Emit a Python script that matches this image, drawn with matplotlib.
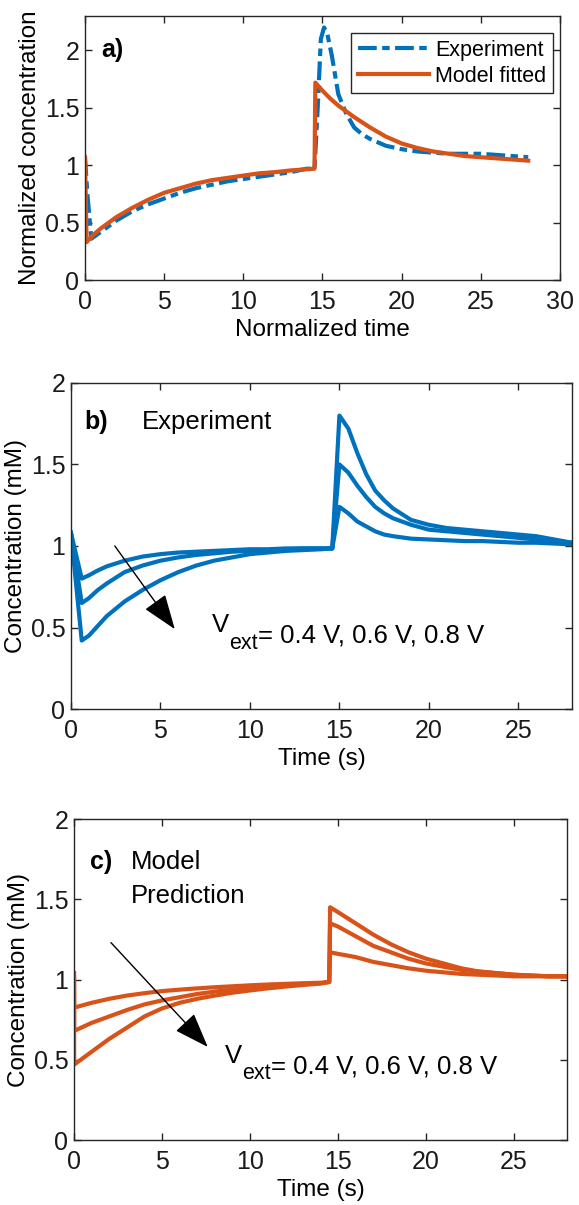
import numpy as np
import matplotlib
matplotlib.use("Agg")
import matplotlib.pyplot as plt
from matplotlib.ticker import FormatStrFormatter

plt.rcParams['font.family'] = ['Liberation Sans', 'DejaVu Sans']
plt.rcParams['mathtext.fontset'] = 'custom'
plt.rcParams['mathtext.rm'] = 'Liberation Sans'
plt.rcParams['mathtext.it'] = 'Liberation Sans'

blue = '#0072BD'
orange = '#D95319'
grey = '#262626'

# panel a: normalized experiment vs fitted model
t_exp_a = [0, 0.15, 0.4, 1, 2, 3, 4, 5, 6, 7, 8, 9, 10, 11, 12, 13, 14, 14.5, 14.7, 14.9, 15.1,
           15.3, 15.6, 16, 16.5, 17, 17.5, 18, 19, 20, 21, 22, 23, 24, 25, 26, 27, 28]
c_exp_a = [1.07, 0.75, 0.36, 0.42, 0.52, 0.60, 0.66, 0.71, 0.76, 0.80, 0.83, 0.86, 0.88, 0.90, 0.92,
           0.94, 0.97, 0.97, 1.5, 2.1, 2.2, 2.15, 1.95, 1.62, 1.45, 1.33, 1.27, 1.23, 1.17, 1.14,
           1.12, 1.11, 1.10, 1.10, 1.10, 1.09, 1.08, 1.07]
t_fit_a = [0, 0.1, 0.5, 1, 2, 3, 4, 5, 6, 7, 8, 9, 10, 11, 12, 13, 14, 14.5, 14.55, 15, 15.5, 16,
           17, 18, 19, 20, 21, 22, 23, 24, 25, 26, 27, 28]
c_fit_a = [1.07, 0.33, 0.39, 0.45, 0.55, 0.63, 0.70, 0.76, 0.80, 0.84, 0.87, 0.89, 0.91, 0.93, 0.94,
           0.955, 0.965, 0.97, 1.72, 1.65, 1.58, 1.52, 1.42, 1.33, 1.25, 1.19, 1.15, 1.12, 1.10,
           1.08, 1.07, 1.06, 1.05, 1.04]

# panel b: experiment at three voltages
t_b = [0, 0.6, 1, 1.5, 2, 3, 4, 5, 6, 7, 8, 9, 10, 11, 12, 13, 14, 14.6, 15.0, 15.5, 16, 16.5,
       17, 17.5, 18, 19, 20, 21, 22, 23, 24, 25, 26, 27, 28]
c_b_04 = [1.08, 0.80, 0.82, 0.85, 0.875, 0.91, 0.935, 0.95, 0.96, 0.965, 0.97, 0.975, 0.98, 0.98,
          0.985, 0.985, 0.985, 0.985, 1.24, 1.20, 1.15, 1.12, 1.09, 1.07, 1.06, 1.045, 1.04, 1.035,
          1.03, 1.03, 1.025, 1.02, 1.02, 1.015, 1.01]
c_b_06 = [1.08, 0.65, 0.68, 0.73, 0.77, 0.84, 0.88, 0.91, 0.93, 0.945, 0.955, 0.965, 0.97, 0.975,
          0.98, 0.985, 0.985, 0.985, 1.50, 1.45, 1.37, 1.30, 1.24, 1.20, 1.17, 1.13, 1.10, 1.09,
          1.08, 1.07, 1.06, 1.05, 1.04, 1.03, 1.02]
c_b_08 = [1.08, 0.42, 0.45, 0.51, 0.57, 0.66, 0.73, 0.79, 0.84, 0.88, 0.91, 0.93, 0.95, 0.96,
          0.97, 0.975, 0.98, 0.985, 1.80, 1.72, 1.57, 1.44, 1.34, 1.28, 1.23, 1.16, 1.13, 1.11,
          1.10, 1.09, 1.08, 1.07, 1.06, 1.04, 1.02]

# panel c: model prediction at three voltages
t_c = [0, 0.01, 1, 2, 3, 4, 5, 6, 7, 8, 9, 10, 11, 12, 13, 14, 14.5, 14.55, 15, 16, 17, 18, 19,
       20, 21, 22, 23, 24, 25, 26, 27, 28]
c_c_04 = [1.04, 0.825, 0.855, 0.88, 0.90, 0.915, 0.928, 0.937, 0.945, 0.952, 0.958, 0.964, 0.969,
          0.973, 0.977, 0.98, 0.985, 1.17, 1.16, 1.14, 1.11, 1.09, 1.07, 1.055, 1.045, 1.035,
          1.03, 1.025, 1.02, 1.02, 1.02, 1.02]
c_c_06 = [1.04, 0.68, 0.73, 0.77, 0.81, 0.845, 0.87, 0.89, 0.91, 0.925, 0.937, 0.947, 0.956,
          0.964, 0.971, 0.977, 0.985, 1.35, 1.33, 1.27, 1.21, 1.17, 1.13, 1.10, 1.08, 1.06, 1.05,
          1.04, 1.03, 1.025, 1.02, 1.02]
c_c_08 = [1.04, 0.47, 0.55, 0.63, 0.70, 0.77, 0.82, 0.855, 0.88, 0.90, 0.918, 0.932, 0.945,
          0.956, 0.966, 0.975, 0.985, 1.45, 1.42, 1.35, 1.28, 1.22, 1.17, 1.13, 1.10, 1.07, 1.05,
          1.04, 1.03, 1.025, 1.02, 1.02]

fs = 18  # tick labels
fl = 17.5  # axis labels / annotations

fig = plt.figure(figsize=(5.79, 12.05), dpi=100)
ax_a = fig.add_axes([0.1468, 0.7676, 0.8202, 0.2191])
ax_b = fig.add_axes([0.1226, 0.4116, 0.8654, 0.2706])
ax_c = fig.add_axes([0.1278, 0.0539, 0.8512, 0.2664])


def style(ax):
    for s in ax.spines.values():
        s.set_color(grey)
        s.set_linewidth(1.0)
    ax.tick_params(direction='in', top=True, right=True, length=5, width=1,
                   colors=grey, labelsize=fs, labelcolor='#1a1a1a', pad=4)
    ax.tick_params(axis='x', pad=7)
    ax.yaxis.set_major_formatter(FormatStrFormatter('%g'))


def vlabel(ax, x, y):
    # V with a low subscript "ext", then the voltage list
    t1 = ax.text(x, y, 'V', fontsize=fl + 1, va='baseline')
    t2 = ax.annotate('ext', xy=(1, 0), xycoords=t1, xytext=(0, -8), textcoords='offset points',
                     fontsize=fl - 2, va='baseline')
    ax.annotate('= 0.4 V, 0.6 V, 0.8 V', xy=(1, 0), xycoords=t2, xytext=(0, 8),
                textcoords='offset points', fontsize=fl + 1, va='baseline')


arrow = dict(arrowstyle='-|>,head_length=1.1,head_width=0.4', color='black', lw=1.0,
             mutation_scale=20, shrinkA=0, shrinkB=0)

# a)
ax_a.plot(t_exp_a, c_exp_a, color=blue, lw=3, dashes=[4.5, 1.3, 1.8, 1.3], label='Experiment')
ax_a.plot(t_fit_a, c_fit_a, color=orange, lw=3, label='Model fitted')
ax_a.set_xlim(0, 30)
ax_a.set_ylim(0, 2.3)
ax_a.set_xticks([0, 5, 10, 15, 20, 25, 30])
ax_a.set_yticks([0, 0.5, 1, 1.5, 2])
ax_a.set_xlabel('Normalized time', fontsize=fl, labelpad=4)
ax_a.set_ylabel('Normalized concentration', fontsize=fl, labelpad=3)
ax_a.text(1.0, 2.0, 'a)', fontsize=fs, fontweight='bold', va='center')
leg = ax_a.legend(loc='upper right', fontsize=15.5, handlelength=3.3, fancybox=False,
                  framealpha=1, edgecolor=grey, borderpad=0.3, labelspacing=0.25,
                  handletextpad=0.3, borderaxespad=0, bbox_to_anchor=(0.985, 0.935))
leg.get_frame().set_linewidth(1.0)
style(ax_a)

# b)
for c in (c_b_04, c_b_06, c_b_08):
    ax_b.plot(t_b, c, color=blue, lw=3, solid_joinstyle='round')
ax_b.set_xlim(0, 28)
ax_b.set_ylim(0, 2)
ax_b.set_xticks([0, 5, 10, 15, 20, 25])
ax_b.set_yticks([0, 0.5, 1, 1.5, 2])
ax_b.set_xlabel('Time (s)', fontsize=fl, labelpad=4)
ax_b.set_ylabel('Concentration (mM)', fontsize=fl, labelpad=3)
ax_b.text(0.75, 1.76, 'b)', fontsize=fs, fontweight='bold', va='center')
ax_b.text(3.95, 1.76, 'Experiment', fontsize=fl + 1, va='center')
ax_b.annotate('', xy=(5.8, 0.49), xytext=(2.45, 1.0), arrowprops=arrow)
vlabel(ax_b, 7.9, 0.47)
style(ax_b)

# c)
for c in (c_c_04, c_c_06, c_c_08):
    ax_c.plot(t_c, c, color=orange, lw=3, solid_joinstyle='round')
ax_c.set_xlim(0, 28)
ax_c.set_ylim(0, 2)
ax_c.set_xticks([0, 5, 10, 15, 20, 25])
ax_c.set_yticks([0, 0.5, 1, 1.5, 2])
ax_c.set_xlabel('Time (s)', fontsize=fl, labelpad=4)
ax_c.set_ylabel('Concentration (mM)', fontsize=fl, labelpad=3)
ax_c.text(0.9, 1.73, 'c)', fontsize=fs, fontweight='bold', va='center')
ax_c.text(3.25, 1.73, 'Model', fontsize=fl + 1, va='center')
ax_c.text(3.25, 1.52, 'Prediction', fontsize=fl + 1, va='center')
ax_c.annotate('', xy=(7.6, 0.58), xytext=(2.1, 1.23), arrowprops=arrow)
vlabel(ax_c, 8.6, 0.48)
style(ax_c)

fig.savefig('out.png', dpi=100)
